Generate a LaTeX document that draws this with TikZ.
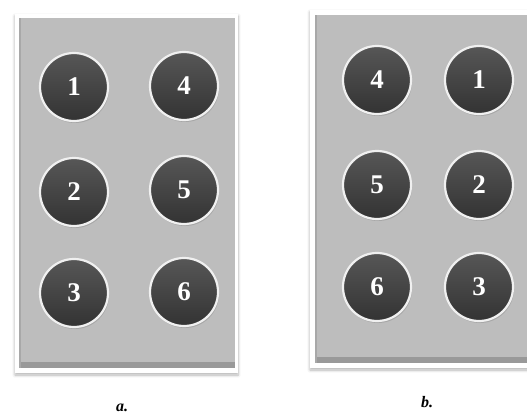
\documentclass[tikz,border=0pt]{standalone}
\usepackage{fontspec}
\setmainfont{Liberation Serif}
\usetikzlibrary{shadows,shadows.blur}
\tikzset{
myFrame/.style={
	fill=white,
	blur shadow={shadow xshift=0pt, shadow yshift=-2pt, shadow blur steps=6,
		shadow blur radius=3pt, shadow opacity=30}
}
, myPanel/.style={fill=black!26}
, myBevel/.style={fill=black!40}
, myKey/.style={
	circle, minimum size=68pt, inner sep=0pt,
	top color=black!66, bottom color=black!80,
	draw=black!6, line width=2.2pt,
	text=white, font=\fontsize{27}{27}\selectfont\bfseries,
	drop shadow={shadow xshift=1pt, shadow yshift=-2pt, opacity=0.35}
}
, myCaption/.style={font=\fontsize{16}{16}\selectfont\bfseries\itshape}
}
\begin{document}
\begin{tikzpicture}[x=1pt,y=-1pt]
	\useasboundingbox (0,0) rectangle (527,414);
	\clip (0,0) rectangle (527,414);
	% panel a
	\fill[myFrame] (15,14) rectangle (238,373);
	\fill[myPanel] (19,18) rectangle (235,368);
	\fill[myBevel] (19,362) rectangle (235,368);
	\fill[black!34] (19,18) rectangle (21,368);
	\node[myKey] (A1) at ( 74, 87) {1};
	\node[myKey] (A4) at (184, 86) {4};
	\node[myKey] (A2) at ( 74,192) {2};
	\node[myKey] (A5) at (184,190) {5};
	\node[myKey] (A3) at ( 74,293) {3};
	\node[myKey] (A6) at (184,292) {6};
	\node[myCaption] (CapA) at (122,408) {a.};
	% panel b
	\fill[myFrame] (310,10) rectangle (540,368);
	\fill[myPanel] (315,15) rectangle (540,363);
	\fill[myBevel] (315,357) rectangle (540,363);
	\fill[black!34] (315,15) rectangle (317,363);
	\node[myKey] (B4) at (377, 80) {4};
	\node[myKey] (B1) at (479, 80) {1};
	\node[myKey] (B5) at (377,185) {5};
	\node[myKey] (B2) at (479,185) {2};
	\node[myKey] (B6) at (377,287) {6};
	\node[myKey] (B3) at (479,287) {3};
	\node[myCaption] (CapB) at (427,402) {b.};
\end{tikzpicture}
\end{document}
